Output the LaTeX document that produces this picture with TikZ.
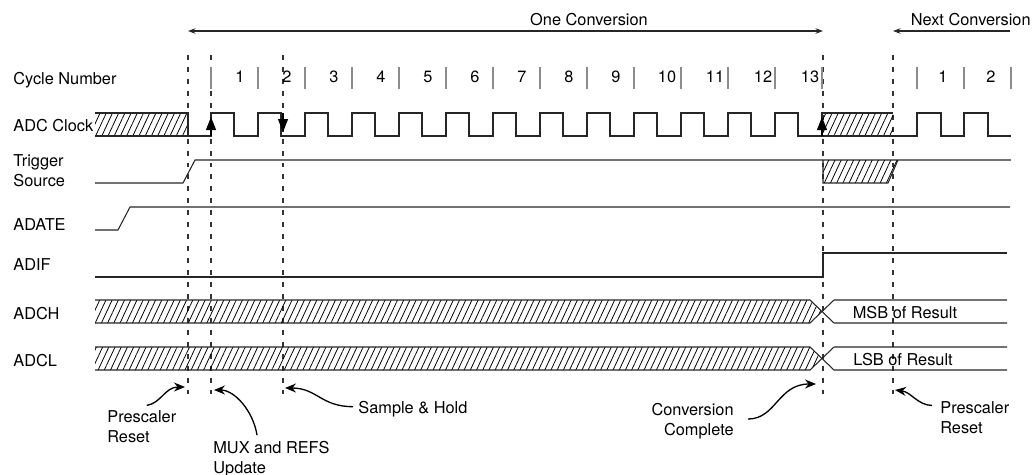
\documentclass[tikz,border=0pt]{standalone}
\usepackage{fontspec}
\setmainfont{TeX Gyre Heros}
\usetikzlibrary{arrows.meta, patterns.meta, calc}

\begin{document}
\begin{tikzpicture}[
    x=0.02cm, y=-0.02cm,
    >={Stealth[length=0.15cm, width=0.11cm]},
    font=\fontsize{9.3}{11}\selectfont,
    sig/.style={line width=0.6pt, black!85},
    tick/.style={line width=0.6pt, black!45},
    guide/.style={line width=0.6pt, black!80, dash pattern=on 2.8pt off 4pt},
    hatch/.style={pattern={Lines[angle=65, distance=3.2pt, line width=0.45pt]}},
    edgemark/.style={-{Triangle[width=0.2cm, length=0.26cm]}, line width=0.6pt},
    span/.style={line width=0.6pt, black!85},
    note/.style={-{Stealth[length=0.22cm, width=0.18cm]}, line width=0.75pt},
    lbl/.style={anchor=base west, align=left, inner sep=0pt},
    num/.style={anchor=base, inner sep=0pt}
  ]
  \useasboundingbox (0,0) rectangle (1035,474);

  % Signal names
  \node[lbl] (cyc) at (13,84) {Cycle Number};
  \node[lbl] (clk) at (13,131) {ADC Clock};
  \node[lbl] (trg) at (13,186) {Trigger\\Source};
  \node[lbl] (adate) at (13,230) {ADATE};
  \node[lbl] (adif) at (13,270) {ADIF};
  \node[lbl] (adch) at (13,319) {ADCH};
  \node[lbl] (adcl) at (13,366) {ADCL};

  % Conversion spans
  \node[num] (one) at (589,25) {One Conversion};
  \node[anchor=base east, inner sep=0pt] (next) at (1031,25) {Next Conversion};
  \coordinate (oneL) at (188,31);
  \coordinate (oneR) at (823,31);
  \coordinate (nextL) at (893,31);
  \coordinate (nextR) at (1010,31);
  \draw[span, <->] (oneL) -- (oneR);
  \draw[span, ->] (nextR) -- (nextL);

  % Dashed guides
  \foreach \x in {188,211,283,823,893}
    \draw[guide] (\x,55) -- (\x,400);

  % Cycle numbers
  \foreach \x in {211,258,...,822,917,964,1011}
    \draw[tick] (\x,67) -- (\x,89);
  \foreach \n/\x in {1/240,2/287,3/334,4/381,5/428,6/475,7/522,8/569,9/616,10/667,11/715,12/763,13/810}
    \node[num] (c\n) at (\x,82) {\n};
  \node[num] (n1) at (943,82) {1};
  \node[num] (n2) at (991,82) {2};

  % ADC clock
  \fill[hatch] (95,113) rectangle (188,136);
  \draw[sig] (95,113) -- (188,113) -- (188,136) -- (95,136);
  \draw[sig] (188,136) -- (211,136)
    foreach \k in {0,...,12} {-- ({211+47*\k},113) -- ({234+47*\k},113) -- ({234+47*\k},136) -- ({258+47*\k},136)};
  \fill[hatch] (823,113) rectangle (893,136);
  \draw[sig] (822,136) -- (822,113) -- (893,113);
  \draw[sig] (822,136) -- (917,136) -- (917,113) -- (941,113) -- (941,136) -- (964,136)
    -- (964,113) -- (988,113) -- (988,136) -- (1011,136);
  \draw[edgemark] (211,136) -- (211,117);
  \draw[edgemark] (283,113) -- (283,132);
  \draw[edgemark] (822,136) -- (822,117);

  % Trigger source
  \draw[sig] (95,183) -- (183,183) -- (195,160) -- (1011,160);
  \fill[hatch] (823,160) -- (898,160) -- (888,183) -- (823,183) -- cycle;
  \draw[sig] (823,160) -- (823,183) -- (888,183) -- (898,160);

  % ADATE and ADIF
  \draw[sig] (95,230) -- (118,230) -- (130,207) -- (1010,207);
  \draw[sig] (95,277) -- (823,277) -- (823,253) -- (1007,253);

  % Result registers
  \foreach \t in {300,347} {
    \fill[hatch] (95,\t) -- (810,\t) -- (822,\t+11.5) -- (810,\t+23) -- (95,\t+23) -- cycle;
    \draw[sig] (95,\t) -- (810,\t) -- (834,\t+23) -- (1007,\t+23);
    \draw[sig] (95,\t+23) -- (810,\t+23) -- (834,\t) -- (1007,\t);
  }
  \node[num] (msb) at (905,318) {MSB of Result};
  \node[num] (lsb) at (903,365) {LSB of Result};

  % Event notes
  \node[lbl] (presL) at (107,442) {Prescaler\\Reset};
  \node[lbl] (mux) at (213,473) {MUX and REFS\\Update};
  \node[lbl] (sh) at (358,413) {Sample \& Hold};
  \node[anchor=base east, align=right, inner sep=0pt] (cc) at (734,435) {Conversion\\Complete};
  \node[lbl] (presR) at (940,433) {Prescaler\\Reset};

  \coordinate (tA) at (185,387);
  \coordinate (tB) at (214,390);
  \coordinate (tC) at (285,388);
  \coordinate (tD) at (816,384);
  \coordinate (tE) at (895,390);
  \draw[note] ([shift={(5,-5)}]presL.north) .. controls +(14,-2) and +(-20,0) .. (tA);
  \draw[note] ([shift={(44,-6)}]mux.north west) .. controls +(-4,-25) and +(20,0) .. (tB);
  \draw[note] ([shift={(-5,-2)}]sh.west) .. controls +(-32,0) and +(32,0) .. (tC);
  \draw[note] ([shift={(14,-2)}]cc.east) .. controls +(28,0) and +(-38,0) .. (tD);
  \draw[note] ([shift={(-8,4)}]presR.north west) .. controls +(-14,0) and +(16,2) .. (tE);
\end{tikzpicture}
\end{document}
